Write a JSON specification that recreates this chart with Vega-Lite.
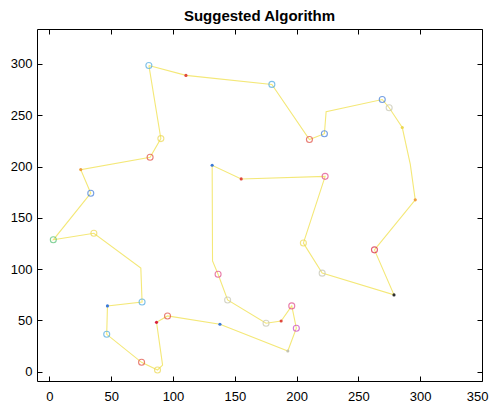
{
  "$schema": "https://vega.github.io/schema/vega-lite/v6.json",
  "autosize": {"type": "none"},
  "padding": {"left": 37, "top": 29, "right": 7, "bottom": 29},
  "width": 445,
  "height": 352,
  "background": "white",
  "config": {
    "view": {"stroke": null},
    "font": "Liberation Sans",
    "axis": {"grid": false, "domainColor": "#000000", "domainWidth": 1, "tickColor": "#000000", "tickSize": -5, "labelFont": "Liberation Sans", "labelFontSize": 13, "labelColor": "#000000", "title": null}
  },
  "title": {"text": "Suggested Algorithm", "font": "Liberation Sans", "fontSize": 15, "fontWeight": "bold", "color": "#000000", "anchor": "middle", "offset": 5},
  "data": {"values": [
    {"o": 1, "x": 80.5, "y": 298.5, "k": "ring", "g": "cyan"},
    {"o": 2, "x": 110.5, "y": 288.8, "k": "dot", "g": "red"},
    {"o": 3, "x": 180, "y": 280, "k": "ring", "g": "cyan"},
    {"o": 4, "x": 210.4, "y": 226.3, "k": "ring", "g": "red"},
    {"o": 5, "x": 222.5, "y": 232, "k": "ring", "g": "blue"},
    {"o": 6, "x": 223.9, "y": 253.5, "k": "none", "g": "none"},
    {"o": 7, "x": 269.3, "y": 265.3, "k": "ring", "g": "blue"},
    {"o": 8, "x": 274.9, "y": 257.3, "k": "ring", "g": "gray"},
    {"o": 9, "x": 285.5, "y": 238, "k": "dot", "g": "yellow"},
    {"o": 10, "x": 292, "y": 202, "k": "none", "g": "none"},
    {"o": 11, "x": 296, "y": 167.5, "k": "dot", "g": "orange"},
    {"o": 12, "x": 263, "y": 118.8, "k": "ring", "g": "crimson"},
    {"o": 13, "x": 278.8, "y": 74.9, "k": "dot", "g": "black"},
    {"o": 14, "x": 220.7, "y": 96.1, "k": "ring", "g": "gray"},
    {"o": 15, "x": 205.5, "y": 125.4, "k": "ring", "g": "yellow"},
    {"o": 16, "x": 223.1, "y": 190.4, "k": "ring", "g": "pink"},
    {"o": 17, "x": 155.2, "y": 187.9, "k": "dot", "g": "red"},
    {"o": 18, "x": 131.7, "y": 201.2, "k": "dot", "g": "blue"},
    {"o": 19, "x": 132, "y": 108, "k": "none", "g": "none"},
    {"o": 20, "x": 136.5, "y": 95, "k": "ring", "g": "pink"},
    {"o": 21, "x": 144.2, "y": 70, "k": "ring", "g": "gray"},
    {"o": 22, "x": 175.3, "y": 47.3, "k": "ring", "g": "gray"},
    {"o": 23, "x": 187.5, "y": 49.5, "k": "dot", "g": "red"},
    {"o": 24, "x": 196.1, "y": 64.2, "k": "ring", "g": "pink"},
    {"o": 25, "x": 199.8, "y": 42.4, "k": "ring", "g": "magenta"},
    {"o": 26, "x": 192.9, "y": 20.2, "k": "dot", "g": "gray"},
    {"o": 27, "x": 138, "y": 46.3, "k": "dot", "g": "blue"},
    {"o": 28, "x": 95.6, "y": 54.4, "k": "ring", "g": "red"},
    {"o": 29, "x": 86.7, "y": 48.2, "k": "dot", "g": "crimson"},
    {"o": 30, "x": 91.6, "y": 6.5, "k": "none", "g": "none"},
    {"o": 31, "x": 87.5, "y": 1.7, "k": "ring", "g": "yellow"},
    {"o": 32, "x": 74.6, "y": 9.2, "k": "ring", "g": "red"},
    {"o": 33, "x": 46.4, "y": 36.5, "k": "ring", "g": "cyan"},
    {"o": 34, "x": 47, "y": 64.2, "k": "dot", "g": "blue"},
    {"o": 35, "x": 75, "y": 68, "k": "ring", "g": "cyan"},
    {"o": 36, "x": 74, "y": 101, "k": "none", "g": "none"},
    {"o": 37, "x": 36, "y": 135, "k": "ring", "g": "yellow"},
    {"o": 38, "x": 3.2, "y": 128.6, "k": "ring", "g": "green"},
    {"o": 39, "x": 33.5, "y": 174, "k": "ring", "g": "blue"},
    {"o": 40, "x": 25.4, "y": 197, "k": "dot", "g": "orange"},
    {"o": 41, "x": 81.5, "y": 209, "k": "ring", "g": "red"},
    {"o": 42, "x": 90.2, "y": 227.2, "k": "ring", "g": "yellow"},
    {"o": 43, "x": 80.5, "y": 298.5, "k": "none", "g": "none"}
  ]},
  "layer": [
    {
      "mark": {"type": "line", "color": "#f4e878", "strokeWidth": 1.1},
      "encoding": {
        "x": {"field": "x", "type": "quantitative", "scale": {"domain": [-10, 350], "nice": false, "zero": false},
              "axis": {"orient": "bottom", "values": [0, 50, 100, 150, 200, 250, 300, 350], "labelPadding": 14, "labelFlush": true, "labelFlushOffset": 6}},
        "y": {"field": "y", "type": "quantitative", "scale": {"domain": [-9, 334], "nice": false, "zero": false},
              "axis": {"orient": "left", "values": [0, 50, 100, 150, 200, 250, 300], "labelPadding": 10}},
        "order": {"field": "o", "type": "quantitative"}
      }
    },
    {
      "transform": [{"filter": "datum.k === 'ring'"}],
      "mark": {"type": "point", "shape": "circle", "filled": false, "size": 36, "strokeWidth": 1.1},
      "encoding": {
        "x": {"field": "x", "type": "quantitative", "axis": null},
        "y": {"field": "y", "type": "quantitative", "axis": null},
        "color": {"field": "g", "type": "nominal", "legend": null,
                  "scale": {"domain": ["cyan", "blue", "red", "crimson", "pink", "magenta", "yellow", "orange", "green", "gray", "black"],
                            "range": ["#4aa8e0", "#3a78d8", "#e0483c", "#d8203c", "#e04888", "#c840c0", "#ecd850", "#f0a040", "#50c070", "#c4c4b0", "#303030"]}}
      }
    },
    {
      "transform": [{"filter": "datum.k === 'dot'"}],
      "mark": {"type": "point", "shape": "circle", "filled": true, "size": 10, "opacity": 1},
      "encoding": {
        "x": {"field": "x", "type": "quantitative",
              "axis": {"orient": "top", "values": [0, 50, 100, 150, 200, 250, 300, 350], "labels": false}},
        "y": {"field": "y", "type": "quantitative",
              "axis": {"orient": "right", "values": [0, 50, 100, 150, 200, 250, 300], "labels": false}},
        "color": {"field": "g", "type": "nominal", "legend": null}
      }
    }
  ],
  "resolve": {"axis": {"x": "independent", "y": "independent"}}
}
